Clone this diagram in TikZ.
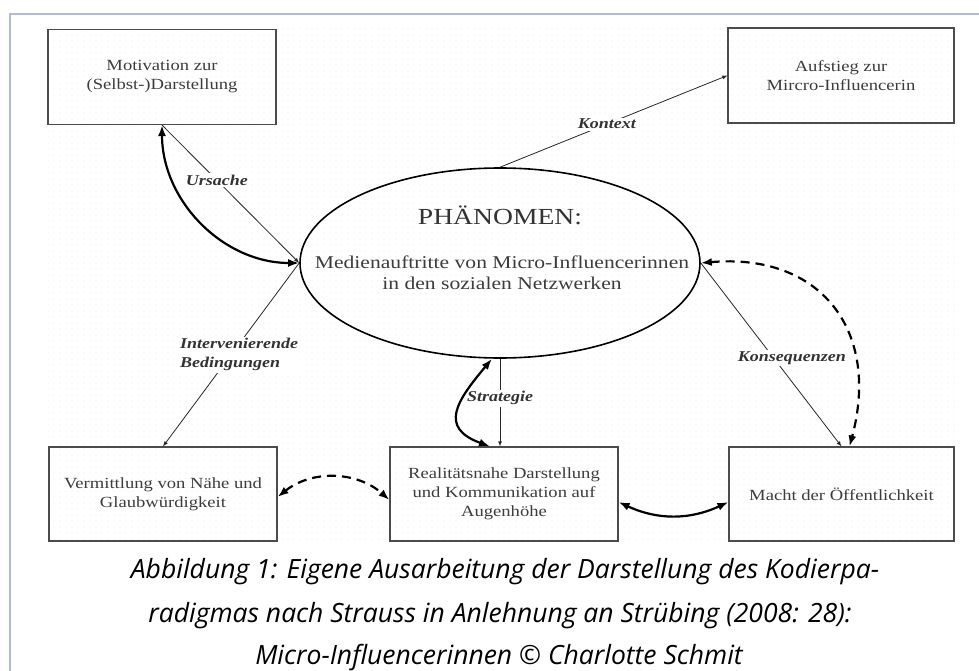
\documentclass[tikz,border=0pt]{standalone}
\usepackage{fontspec}
\setmainfont{Liberation Serif}[FakeStretch=1.2]
\newfontfamily\capfont{Open Sans}
\usetikzlibrary{shapes.geometric,patterns.meta,arrows.meta}

\definecolor{framegray}{RGB}{178,188,208}
\definecolor{boxtext}{RGB}{60,60,60}

\tikzset{
  box/.style={draw=black!70,line width=1.1pt,rectangle,minimum width=228pt,minimum height=95pt,
    align=center,text=boxtext,font=\fontsize{15.5}{19}\selectfont},
  edgelbl/.style={fill=white,inner sep=1.5pt,text=black!80,font=\fontsize{15}{19}\selectfont\bfseries\itshape},
  thinline/.style={draw=black!85,line width=0.8pt},
  bigarrow/.style={{Latex[length=11pt,width=8pt]}-{Latex[length=11pt,width=8pt]},line width=2.2pt},
  dashes/.style={dash pattern=on 9pt off 6pt},
  capline/.style={anchor=base,font=\capfont\itshape\fontsize{26.5}{30}\selectfont}
}

\begin{document}
\begin{tikzpicture}[x=1pt,y=-1pt]
    \useasboundingbox (0,0) rectangle (979,671);
    \fill[pattern={Dots[distance=6pt,radius=0.45pt]},pattern color=black!22] (48,28) rectangle (955,541);
    \draw[framegray,line width=2.5pt] (979,14) -- (10,14) -- (10,671);

    \node[box] at (162,77) (mot) {Motivation zur\\(Selbst-)Darstellung};
    \node[box,minimum width=226pt] at (841,75.5) (auf) {Aufstieg zur\\Mircro-Influencerin};
    \node[box,minimum height=94pt] at (163,494) (verm) {Vermittlung von Nähe und\\Glaubwürdigkeit};
    \node[box,minimum height=94pt] at (504,494) (real) {Realitätsnahe Darstellung\\und Kommunikation auf\\Augenhöhe};
    \node[box,minimum width=225pt,minimum height=94pt] at (841.5,494) (macht) {Macht der Öffentlichkeit};

    \node[ellipse,draw,line width=1.6pt,minimum width=400pt,minimum height=190pt,inner sep=0pt] at (500,263) (phen) {};
    \node[font=\fontsize{23}{28}\selectfont,text=black!80] at (500,215) (phentitle) {PHÄNOMEN:};
    \node[font=\fontsize{18}{21}\selectfont,text=boxtext,align=center] at (502,273) (phentext)
      {Medienauftritte von Micro-Influencerinnen\\in den sozialen Netzwerken};

    \draw[thinline,-latex] (mot.south) -- node[edgelbl,pos=0.4] (ursache) {Ursache} (phen.west);
    \draw[bigarrow] (mot.south) to[out=-90,in=180] (phen.west);
    \draw[thinline,-latex] (phen.north) -- node[edgelbl,pos=0.47] (kontext) {Kontext} (auf.west);
    \draw[thinline,-latex] (phen.west) -- node[edgelbl,pos=0.5,align=left,xshift=8pt] (interv)
      {Intervenierende\\Bedingungen} (verm.north);
    \draw[thinline,-latex] (phen.south) -- node[edgelbl,pos=0.45] (strat) {Strategie} (phen.south |- real.north);
    \draw[bigarrow] ([xshift=-8pt]phen.south) to[out=230,in=160,looseness=1.6] ([xshift=-14pt]real.north);
    \draw[thinline,-latex] (phen.east) -- node[edgelbl,pos=0.52,xshift=18pt] (konseq) {Konsequenzen} (macht.north);
    \draw[bigarrow,dashes] (phen.east) to[out=5,in=75,looseness=1.3] ([xshift=8pt]macht.north);
    \draw[bigarrow,dashes] ([yshift=-3pt]verm.east) to[bend left=40] ([yshift=-6pt]real.west);
    \draw[bigarrow] ([yshift=-8pt]real.east) to[bend right=25] ([yshift=-8pt]macht.west);

    \node[capline] at (505,578) (cap1) {Abbildung 1: Eigene Ausarbeitung der Darstellung des Kodierpa-};
    \node[capline] at (500,622) (cap2) {radigmas nach Strauss in Anlehnung an Strübing (2008: 28):};
    \node[capline] at (499,664) (cap3) {Micro-Influencerinnen © Charlotte Schmit};
\end{tikzpicture}
\end{document}
